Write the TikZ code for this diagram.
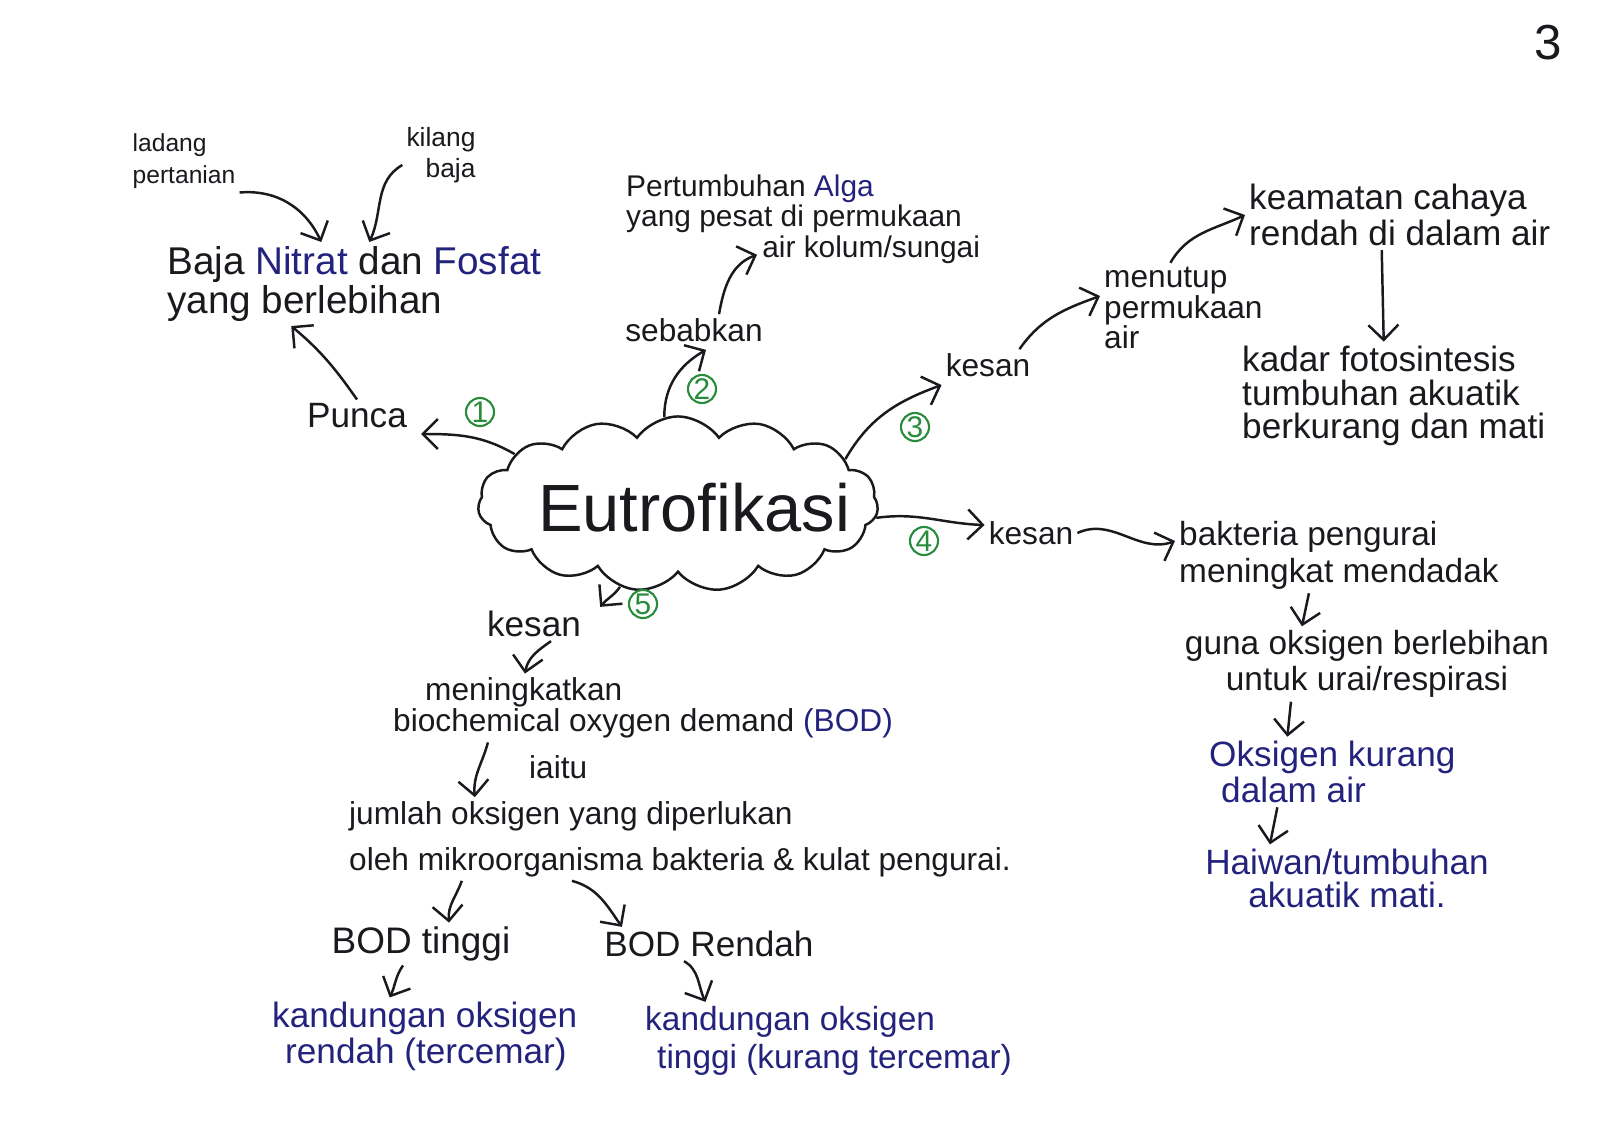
\documentclass[tikz,border=0pt]{standalone}
\usepackage{fontspec}
\setmainfont{Liberation Sans}
\usetikzlibrary{arrows.meta,shapes.symbols}
\definecolor{ink}{RGB}{25,25,30}
\definecolor{navy}{RGB}{35,35,125}
\definecolor{mark}{RGB}{40,140,60}
\newcommand{\fsz}[2]{\fontsize{#1}{#2}\selectfont}

\begin{document}
\begin{tikzpicture}[x=0.01cm,y=0.01cm,font=\fsz{9}{10},
  every node/.style={inner sep=1pt,text=ink},
  txt/.style={align=left},
  blu/.style={text=navy},
  num/.style={circle,draw=mark,text=mark,line width=0.6pt,inner sep=0pt,minimum size=0.28cm,font=\fsz{8.5}{8.5}},
  arr/.style={-{Straight Barb[length=1.5mm,width=3mm]},line width=0.7pt,draw=ink}
]
  \useasboundingbox (0,0) rectangle (1600,-1142);
  \node[font=\fsz{14}{14}] (page) at (1548,-43) {3};

  % pusat
  \node[cloud,draw=ink,line width=0.7pt,cloud puffs=15,cloud puff arc=110,aspect=2.3,
        minimum width=4cm,minimum height=1.75cm,inner sep=0pt] (cloud) at (678,-504) {};
  \node[font=\fsz{19}{19}] (eutro) at (694,-508) {Eutrofikasi};

  % 1 punca
  \node[num] (n1) at (480,-412) {1};
  \node[font=\fsz{10}{10}] (punca) at (357,-416) {Punca};
  \node[txt,anchor=west,font=\fsz{11}{10}] (baja) at (163,-284) {Baja \textcolor{navy}{Nitrat} dan \textcolor{navy}{Fosfat}\\yang berlebihan};
  \node[txt,font=\fsz{7}{9}] (ladang) at (184,-161) {ladang\\pertanian};
  \node[align=right,font=\fsz{7.5}{9}] (kilang) at (441,-155) {kilang\\baja};

  % 2 sebabkan
  \node[num] (n2) at (702,-389) {2};
  \node (sebabkan) at (694,-330) {sebabkan};
  \node[txt,anchor=west,font=\fsz{8.5}{8.7}] (alga) at (622,-219) {Pertumbuhan \textcolor{navy}{Alga}\\yang pesat di permukaan\\\hspace*{1.36cm}air kolum/sungai};

  % 3 kesan
  \node[num] (n3) at (915,-427) {3};
  \node (kesan3) at (988,-365) {kesan};
  \node[txt,anchor=west,font=\fsz{9}{8.7}] (menutup) at (1100,-308) {menutup\\permukaan\\air};
  \node[txt,anchor=west,font=\fsz{10}{10.2}] (keamatan) at (1245,-215) {keamatan cahaya\\rendah di dalam air};
  \node[txt,anchor=west,font=\fsz{10}{9.6}] (kadar) at (1238,-396) {kadar fotosintesis\\tumbuhan akuatik\\berkurang dan mati};

  % 4 kesan
  \node[num] (n4) at (924,-541) {4};
  \node (kesan4) at (1031,-533) {kesan};
  \node[txt,anchor=west,font=\fsz{9.5}{10.5}] (bakteria) at (1175,-555) {bakteria pengurai\\meningkat mendadak};
  \node[align=center,font=\fsz{9.5}{10.2}] (guna) at (1367,-664) {guna oksigen berlebihan\\untuk urai/respirasi};
  \node[txt,blu,anchor=west,font=\fsz{10}{9}] (oksigenk) at (1205,-772) {Oksigen kurang\\\hspace*{0.12cm}dalam air};
  \node[align=center,blu,font=\fsz{10}{9.4}] (haiwan) at (1347,-878) {Haiwan/tumbuhan\\akuatik mati.};

  % 5 kesan
  \node[num] (n5) at (643,-604) {5};
  \node[font=\fsz{10}{10}] (kesan5) at (534,-624) {kesan};
  \node[txt,anchor=west,font=\fsz{9}{8.8}] (bod) at (389,-708) {\hspace*{0.32cm}meningkatkan\\biochemical oxygen demand \textcolor{navy}{(BOD)}};
  \node[txt,anchor=west,font=\fsz{9}{13}] (jumlah) at (345,-839) {jumlah oksigen yang diperlukan\\oleh mikroorganisma bakteria \& kulat pengurai.};
  \node[font=\fsz{10.5}{10.5}] (bodt) at (421,-944) {BOD tinggi};
  \node[font=\fsz{10}{10}] (bodr) at (709,-944) {BOD Rendah};
  \node[txt,blu,anchor=west,font=\fsz{10}{10.2}] (kandr) at (268,-1036) {kandungan oksigen\\\hspace*{0.13cm}rendah (tercemar)};
  \node[txt,blu,anchor=west,font=\fsz{9.5}{11}] (kandt) at (641,-1041) {kandungan oksigen\\\hspace*{0.12cm}tinggi (kurang tercemar)};

  \draw[arr] (ladang.south east) to[out=5,in=115] ([xshift=-3.3mm]baja.north);
  \draw[arr] ([yshift=-1mm]kilang.west) to[out=210,in=65] ([xshift=1.5mm]baja.north);
  \draw[arr] (punca.north) to[out=125,in=-40] ([xshift=-6.3mm]baja.south);
  \draw[arr] (cloud.163) to[out=150,in=0] ([shift={(10,-18)}]punca.east);

  \draw[arr] (cloud.99) to[out=90,in=-150] ([shift={(12,-4)}]sebabkan.south);
  \draw[arr] ([xshift=2.5mm]sebabkan.north) to[out=80,in=200] ([shift={(135,13)}]alga.south west);

  \draw[arr] (cloud.15) to[out=60,in=200] ([yshift=-2mm]kesan3.west);
  \draw[arr] ([xshift=-1.5mm]kesan3.north east) to[out=55,in=200] ([yshift=1.2mm]menutup.west);
  \draw[arr] ([xshift=-1.3mm]menutup.north) to[out=60,in=205] (keamatan.west);
  \draw[arr] ([xshift=-1.8mm]keamatan.south) -- ([xshift=-1mm]kadar.north);

  \draw[arr] (cloud.-4) to[out=8,in=178] ([yshift=0.8mm]kesan4.west);
  \draw[arr] (kesan4.east) to[out=25,in=200] ([yshift=1.4mm]bakteria.west);
  \draw[arr] ([xshift=-3mm]bakteria.south) -- ([xshift=-6.5mm]guna.north);
  \draw[arr] ([xshift=-7.6mm]guna.south) -- ([xshift=-4.5mm]oksigenk.north);
  \draw[arr] ([xshift=-5.5mm]oksigenk.south) -- ([xshift=-7.7mm]haiwan.north);

  \draw[arr] (cloud.235) to[out=235,in=50] ([xshift=1.5mm]kesan5.north east);
  \draw[arr] ([xshift=1.7mm]kesan5.south) to[out=215,in=80] ([xshift=-11.8mm]bod.north);
  \draw[arr] ([xshift=-15.5mm]bod.south) to[out=255,in=95] node[right=4.5mm,pos=0.45] (iaitu) {iaitu} ([xshift=-20.5mm]jumlah.north);
  \draw[arr] ([xshift=-21.8mm]jumlah.south) to[out=250,in=95] ([xshift=2.8mm]bodt.north);
  \draw[arr] ([xshift=-10.8mm]jumlah.south) to[out=-15,in=125] ([xshift=-8.7mm]bodr.north);
  \draw[arr] ([xshift=-1.8mm]bodt.south) to[out=235,in=65] ([xshift=-3.5mm]kandr.north);
  \draw[arr] ([xshift=-2.5mm]bodr.south) to[out=-30,in=115] ([xshift=-12.3mm]kandt.north);
\end{tikzpicture}
\end{document}
